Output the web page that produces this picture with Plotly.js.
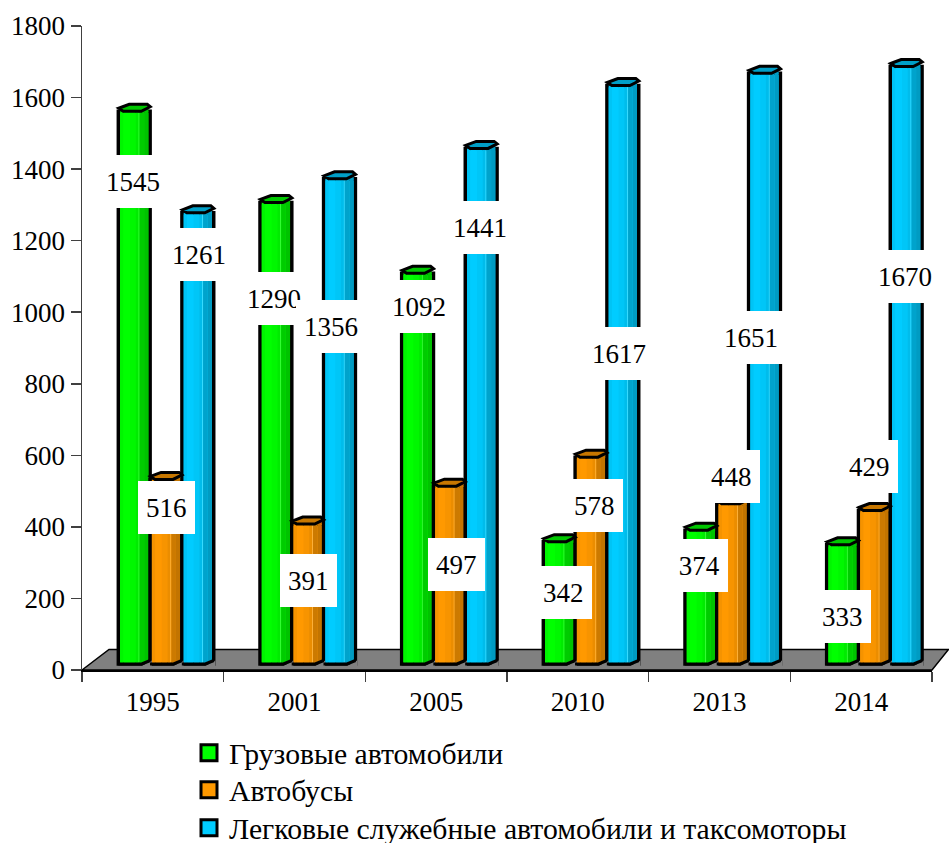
<!DOCTYPE html>
<html><head><meta charset="utf-8">
<script src="https://cdn.plot.ly/plotly-3.0.1.min.js"></script>
<style>html,body{margin:0;padding:0;background:#fff}</style></head>
<body><div id="chart" style="width:949px;height:843px"></div>
<script>
// ---- data ----
const categories = ['1995','2001','2005','2010','2013','2014'];
const seriesNames = ['Грузовые автомобили','Автобусы','Легковые служебные автомобили и таксомоторы'];
const trucks = [1545,1290,1092,342,374,333];
const buses = [516,391,497,578,448,429];
const cars = [1261,1356,1441,1617,1651,1670];
const yTicks = [0,200,400,600,800,1000,1200,1400,1600,1800];

// ---- label placement (page pixels, centre of each white box) ----
const labelCx = [[133,274,419,563,699,842],[166,308,456,594,731,869],[199,331,480,619,751,905]];
const labelCy = [[182,299,307,593,566,617],[508,581,565,506,477,467],[255,327,228,354,338,277]];
const legendCy = [753,790,800];   // last row is nudged after drawing: its box may not overrun the page
const lastLegendNudge = 28;

// ---- frame ----
const W=949,H=843,L=82,R=932,T=25.5,B=670;
const FONT='"Liberation Serif","Times New Roman",serif';
const pxX=(R-L)/6, pxY=(B-T)/1800;
const depthX=13.2/pxX, depthY=6/pxY;
const values=[trucks,buses,cars];
const baseRGB=[[0,255,0],[255,153,0],[0,204,255]];
const barW=31.8/pxX;
const stops=[0,.12,.35,.55,.655,.685,.85,1];
const shades=[.96,1,.97,.92,-1,.8,.76];
const col=(c,k)=>k<0?`rgb(${c.map(v=>Math.round(v*.75+70)).join(',')})`:`rgb(${c.map(v=>Math.round(v*k)).join(',')})`;
const xs=s=>categories.map((_,i)=>i+(s-1)*barW);
const legendIds=['legend','legend2','legend3'];

const traces=[];
values.forEach((vals,s)=>{
  traces.push({type:'bar',xaxis:'x2',yaxis:'y2',x:xs(s),y:vals,width:barW,name:seriesNames[s],showlegend:false,
    marker:{color:col(baseRGB[s],1),line:{color:'#000',width:3.5}},hoverinfo:'y'});
  const inset=1.75/pxX;
  for(let k=0;k<shades.length;k++){
    const a=-barW/2+inset+(barW-2*inset)*stops[k], b=-barW/2+inset+(barW-2*inset)*stops[k+1];
    traces.push({type:'bar',xaxis:'x2',yaxis:'y2',x:xs(s),y:vals,width:b-a,offset:a,showlegend:false,hoverinfo:'skip',
      marker:{color:col(baseRGB[s],shades[k]),line:{width:0}}});
  }
});
// legend entries (and the category axis) come from the primary axes
values.forEach((vals,s)=>{
  traces.push({type:'scatter',mode:'markers',x:categories,y:categories.map(()=>null),name:seriesNames[s],legend:legendIds[s],
    marker:{symbol:'square',size:16,color:col(baseRGB[s],1),line:{color:'#000',width:3}}});
});

// ---- 3D details attached to the data through the bar axes ----
const shapes=[];
const fx=v=>(v-L)/(R-L), fy=v=>(B-v)/(B-T);
shapes.push({type:'path',xref:'paper',yref:'paper',layer:'below',
  path:`M${fx(82)},${fy(670)} L${fx(109)},${fy(649.5)} L${fx(948.5)},${fy(649.5)} L${fx(932)},${fy(670)} Z`,
  fillcolor:'#808080',line:{color:'#000',width:1.5}});
values.forEach((vals,s)=>{
  xs(s).forEach((cx,i)=>{
    const v=vals[i];
    const P=(dx,dy,base)=>`${cx+dx/pxX},${base-dy/pxY}`; // dx,dy in px; dy positive = down
    const poly=(pts,base)=>'M'+pts.map(p=>P(p[0],p[1],base)).join(' L')+' Z';
    // wedge of body colour to the right of the front rim
    shapes.push({type:'path',xref:'x2',yref:'y2',path:poly([[7,1],[14.2,-4],[14.2,1]],v),
      fillcolor:col(baseRGB[s],.78),line:{width:0}});
    // top face
    shapes.push({type:'path',xref:'x2',yref:'y2',path:poly([[-15.5,-3],[-5,-7],[13,-7],[16,-4.5],[7,0],[-11,0]],v),
      fillcolor:col(baseRGB[s],.78),line:{color:'#000',width:3}});
    // foot: front bottom edge, with the raised right corner
    shapes.push({type:'path',xref:'x2',yref:'y2',path:poly([[7.5,2],[17.5,2],[17.5,-3.5]],0),
      fillcolor:'#808080',line:{width:0}});
    shapes.push({type:'path',xref:'x2',yref:'y2',path:'M'+[[-16,0],[7.5,0],[16,-3.5]].map(p=>P(p[0],p[1],0)).join(' L'),
      line:{color:'#000',width:3}});
  });
});

// ---- value labels ----
const annotations=[];
values.forEach((vals,s)=>{
  vals.forEach((v,i)=>{
    annotations.push({xref:'paper',yref:'paper',x:fx(labelCx[s][i]),y:fy(labelCy[s][i]),xanchor:'center',yanchor:'middle',yshift:1,
      text:String(v),showarrow:false,font:{family:FONT,size:27,color:'#000'},bgcolor:'#fff',borderpad:0,borderwidth:0,
      width:String(v).length*13.5+16,height:53,align:'center',valign:'middle'});
  });
});

const axisCol='#404040';
const legendOf=s=>({x:fx(189),xanchor:'left',y:fy(legendCy[s]),yanchor:'middle',
  font:{family:FONT,size:29.7,color:'#000'},bgcolor:'rgba(0,0,0,0)',borderwidth:0,itemclick:false,itemdoubleclick:false});
const layout={
  width:W,height:H,autosize:false,showlegend:true,paper_bgcolor:'#fff',plot_bgcolor:'rgba(0,0,0,0)',
  margin:{l:L,r:W-R,t:T,b:H-B,pad:0},font:{family:FONT,size:27,color:'#000'},barmode:'overlay',
  xaxis:{type:'category',categoryorder:'array',categoryarray:categories,range:[-.5,5.5],tickson:'boundaries',
    ticks:'outside',ticklen:10,tickwidth:1.5,tickcolor:axisCol,showline:true,linecolor:'#000',linewidth:1.5,showgrid:false,zeroline:false,
    ticklabelstandoff:7,tickfont:{family:FONT,size:27,color:'#000'},anchor:'y',fixedrange:true},
  yaxis:{range:[0,1800],tickmode:'array',tickvals:yTicks,ticktext:yTicks.map(String),ticks:'outside',ticklen:10,tickwidth:1.5,tickcolor:axisCol,
    showline:true,linecolor:axisCol,linewidth:1.5,showgrid:false,zeroline:false,ticklabelshift:-1.5,tickfont:{family:FONT,size:27,color:'#000'},anchor:'x',fixedrange:true},
  xaxis2:{overlaying:'x',anchor:'y2',visible:false,range:[-.5-depthX,5.5-depthX],fixedrange:true},
  yaxis2:{overlaying:'y',anchor:'x2',visible:false,range:[-depthY,1800-depthY],fixedrange:true},
  legend:legendOf(0),legend2:legendOf(1),legend3:legendOf(2),
  shapes,annotations
};
Plotly.newPlot('chart',traces,layout,{displayModeBar:false,staticPlot:true}).then(gd=>{
  const g=gd.querySelector('.legend3');
  if(g){
    const m=/translate\(([-\d.]+)[ ,]+([-\d.]+)\)/.exec(g.getAttribute('transform')||'');
    if(m) g.setAttribute('transform',`translate(${m[1]},${+m[2]+lastLegendNudge})`);
  }
});
</script></body></html>
